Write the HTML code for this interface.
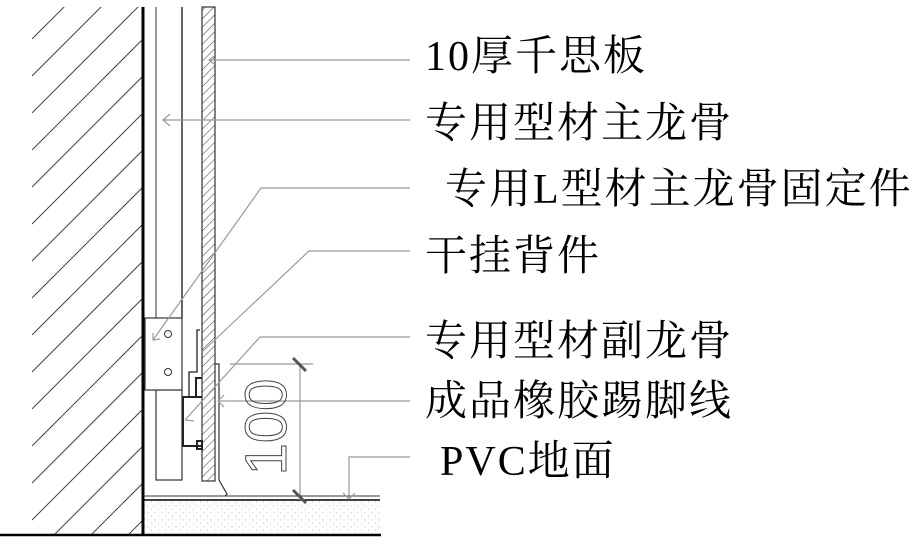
<!DOCTYPE html>
<html><head><meta charset="utf-8"><style>
html,body{margin:0;background:#fff;width:920px;height:546px;overflow:hidden}
svg{display:block;overflow:hidden}
text{font-family:"Liberation Serif","Noto Serif CJK SC",serif;font-size:42px;letter-spacing:2px;fill:#000}
</style></head><body>
<svg width="920" height="546" viewBox="0 0 920 546">
<defs>
<pattern id="h" width="6" height="6" patternUnits="userSpaceOnUse" patternTransform="rotate(45)">
<line x1="0" y1="0" x2="0" y2="6" stroke="#555" stroke-width="1.2"/></pattern>
<pattern id="sp" width="7" height="7" patternUnits="userSpaceOnUse">
<circle cx="1" cy="2" r=".5" fill="#999"/><circle cx="4.5" cy="5" r=".5" fill="#aaa"/><circle cx="5" cy="1" r=".4" fill="#bbb"/></pattern>
<clipPath id="wc"><rect x="32" y="7" width="111" height="527"/></clipPath>
</defs>
<g stroke="#444" stroke-width="1" clip-path="url(#wc)">
<line x1="32" y1="39" x2="143" y2="-72"/><line x1="32" y1="76" x2="143" y2="-35"/>
<line x1="32" y1="113" x2="143" y2="2"/><line x1="32" y1="150" x2="143" y2="39"/>
<line x1="32" y1="187" x2="143" y2="76"/><line x1="32" y1="224" x2="143" y2="113"/>
<line x1="32" y1="261" x2="143" y2="150"/><line x1="32" y1="298" x2="143" y2="187"/>
<line x1="32" y1="335" x2="143" y2="224"/><line x1="32" y1="372" x2="143" y2="261"/>
<line x1="32" y1="409" x2="143" y2="298"/><line x1="32" y1="446" x2="143" y2="335"/>
<line x1="32" y1="483" x2="143" y2="372"/><line x1="32" y1="520" x2="143" y2="409"/>
<line x1="32" y1="557" x2="143" y2="446"/><line x1="32" y1="594" x2="143" y2="483"/>
<line x1="32" y1="631" x2="143" y2="520"/>
</g>
<line x1="143" y1="7" x2="143" y2="536" stroke="#000" stroke-width="3"/>
<line x1="156" y1="7" x2="156" y2="318" stroke="#555" stroke-width="1.2"/>
<line x1="182" y1="7" x2="182" y2="318" stroke="#000" stroke-width="1.2"/>
<rect x="156" y="390" width="26" height="90" fill="none" stroke="#333" stroke-width="1.2"/>
<rect x="202" y="7" width="13" height="474" fill="url(#h)" stroke="#333" stroke-width="1.2"/>
<rect x="145" y="318" width="37" height="72" fill="#fff" stroke="#333" stroke-width="1.2"/>
<circle cx="168" cy="334" r="3.5" fill="none" stroke="#333"/>
<circle cx="168" cy="372" r="3.5" fill="none" stroke="#333"/>
<polyline points="200,330 197,330 197,372 189,372 189,397" fill="none" stroke="#222" stroke-width="1.3"/>
<polyline points="202,378 196,378 196,397" fill="none" stroke="#222" stroke-width="2"/>
<polyline points="202,397 183,397 183,446 202,446" fill="none" stroke="#222" stroke-width="2"/>
<rect x="197" y="441" width="5" height="8" fill="none" stroke="#222" stroke-width="2"/>
<polyline points="215,364 219,364 219,480 227,494 225,496" fill="none" stroke="#333" stroke-width="1.2"/>
<line x1="143" y1="496" x2="380" y2="496" stroke="#333" stroke-width="1"/>
<line x1="143" y1="500" x2="380" y2="500" stroke="#000" stroke-width="1.5"/>
<rect x="144" y="501" width="236" height="32" fill="url(#sp)"/>
<line x1="0" y1="535" x2="381" y2="535" stroke="#000" stroke-width="2.5"/>
<g stroke="#999" stroke-width="1.2" fill="none">
<polyline points="410,60 210,60"/><polyline points="214,56 209,60 214,64"/>
<polyline points="410,120 163,120"/><polyline points="170,114 163,120 170,126"/>
<polyline points="410,188 261,188 153,340"/><polyline points="153,333 153,340 160,339"/>
<polyline points="410,251 309,251 202,352"/>
<polyline points="410,337 260,337 185,420"/><polyline points="185,420 194,421"/>
<polyline points="410,401 218,401"/><polyline points="224,395 218,401 224,407"/>
<polyline points="410,457 349,457 349,499"/><polyline points="343,493 349,499 355,493"/>
<line x1="230" y1="364" x2="313" y2="364"/>
<line x1="300" y1="364" x2="300" y2="500"/>
</g>
<g stroke="#555" stroke-width="3">
<line x1="293" y1="358" x2="306" y2="371"/><line x1="293" y1="490" x2="306" y2="503"/>
</g>
<text transform="translate(286,427) rotate(-90)" text-anchor="middle" style="font-family:'Liberation Sans',sans-serif;font-size:58px;letter-spacing:0;fill:none;stroke:#444;stroke-width:1">100</text>
<text x="425" y="70">10厚千思板</text>
<text x="425" y="137">专用型材主龙骨</text>
<text x="445" y="203">专用L型材主龙骨固定件</text>
<text x="425" y="270">干挂背件</text>
<text x="425" y="355">专用型材副龙骨</text>
<text x="425" y="415">成品橡胶踢脚线</text>
<text x="440" y="475">PVC地面</text>
</svg>
</body></html>
